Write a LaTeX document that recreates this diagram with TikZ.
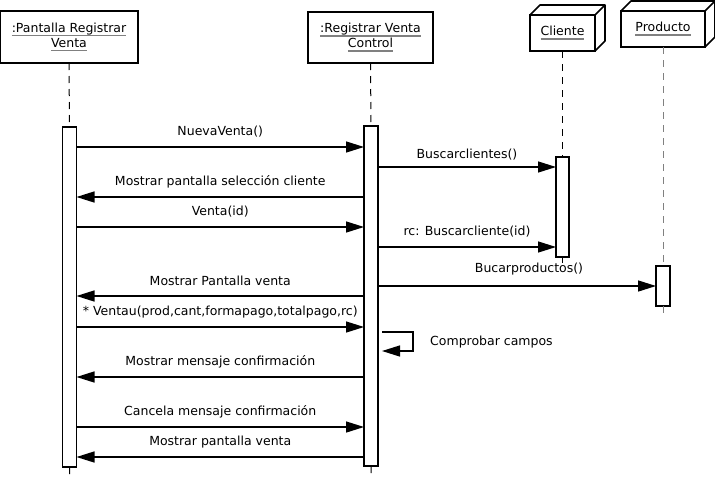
\documentclass[tikz,border=0pt]{standalone}
\usepackage{fontspec}
\setmainfont{DejaVu Sans}
\usetikzlibrary{arrows.meta,calc}

% underlined object name, grey rule
\newcommand{\uname}[1]{\leavevmode\setbox0\hbox{#1}\rlap{\textcolor{gray}{\rule[-3.8pt]{\wd0}{1.6pt}}}\box0}

\tikzset{
  hdr/.style={draw, line width=1.6pt, align=center, inner sep=0pt, outer sep=0pt},
  bar/.style={draw, line width=1.3pt, fill=white, minimum width=14pt, inner sep=0pt, outer sep=0pt},
  life/.style={dash pattern=on 7pt off 6pt, line width=1pt},
  msg/.style={line width=1.4pt, -{Triangle[length=18pt,width=11pt]}},
  lbl/.style={anchor=base, yshift=11.5pt, inner sep=0pt},
}

\begin{document}
\begin{tikzpicture}[x=1pt, y=-1pt, font=\fontsize{12.5}{15}\selectfont]

\useasboundingbox (0,0) rectangle (715,477);

% objects
\node[hdr, minimum width=138pt, minimum height=52pt] (pantalla) at (69,37)
  {\uname{:Pantalla Registrar}\\\uname{Venta}};
\node[hdr, minimum width=125pt, minimum height=51pt] (control) at (370.5,37.5)
  {\uname{:Registrar Venta}\\\uname{Control}};
\node[hdr, minimum width=65pt, minimum height=36pt] (cliente) at (562.5,33)
  {\uname{Cliente}};
\node[hdr, minimum width=84pt, minimum height=36pt] (producto) at (663,29)
  {\uname{Producto}};

% 3d faces
\draw[line width=1.6pt, line join=round] (cliente.north west) -- ++(10,-10) -- ++(65,0) -- ++(0,36) -- (cliente.south east)
      (cliente.north east) -- ++(10,-10);
\draw[line width=1.6pt, line join=round] (producto.north west) -- ++(10,-10) -- ++(84,0) -- ++(0,36) -- (producto.south east)
      (producto.north east) -- ++(10,-10);

% activation bars
\node[bar, minimum height=340pt] (barP) at (69.5,297) {};
\node[bar, minimum height=340pt] (barC) at (371,296) {};
\node[bar, minimum width=13pt, minimum height=100pt] (barCl) at (562.5,207) {};
\node[bar, minimum height=40pt] (barPr) at (663,286) {};

% lifelines
\draw[life] (pantalla.south) -- (barP.north) (barP.south) -- ++(0,10);
\draw[life] (control.south) -- (barC.north) (barC.south) -- ++(0,11);
\draw[life] (cliente.south) -- (barCl.north) (barCl.south) -- ++(0,6);
\draw[life, gray] (producto.south) -- (barPr.north) (barPr.south) -- ++(0,7);

% messages
\draw[msg] (barP.east |- 0,147) -- node[lbl] {NuevaVenta()} (barC.west |- 0,147);
\draw[msg] (barC.east |- 0,167) -- node[lbl, yshift=-3pt] {Buscarclientes()} (barCl.west |- 0,167);
\draw[msg] (barC.west |- 0,197) -- node[lbl] {Mostrar pantalla selección cliente} (barP.east |- 0,197);
\draw[msg] (barP.east |- 0,227) -- node[lbl] {Venta(id)} (barC.west |- 0,227);
\draw[msg] (barC.east |- 0,247) -- node[lbl] {rc: Buscarcliente(id)} (barCl.west |- 0,247);
\draw[msg] (barC.east |- 0,286) -- node[lbl, xshift=12pt, yshift=2pt] {Bucarproductos()} (barPr.west |- 0,286);
\draw[msg] (barC.west |- 0,296) -- node[lbl, yshift=-1pt] {Mostrar Pantalla venta} (barP.east |- 0,296);
\draw[msg] (barP.east |- 0,327) -- node[lbl] {* Ventau(prod,cant,formapago,totalpago,rc)} (barC.west |- 0,327);

% self call
\draw[msg] ($(barC.east |- 0,332)+(4,0)$) -- ++(31,0) -- ++(0,19) -- ++(-31,0);
\node[anchor=west, inner sep=0pt] (comprobar) at (430,342) {Comprobar campos};

\draw[msg] (barC.west |- 0,377) -- node[lbl] {Mostrar mensaje confirmación} (barP.east |- 0,377);
\draw[msg] (barP.east |- 0,427) -- node[lbl] {Cancela mensaje confirmación} (barC.west |- 0,427);
\draw[msg] (barC.west |- 0,457) -- node[lbl] {Mostrar pantalla venta} (barP.east |- 0,457);

\end{tikzpicture}
\end{document}
